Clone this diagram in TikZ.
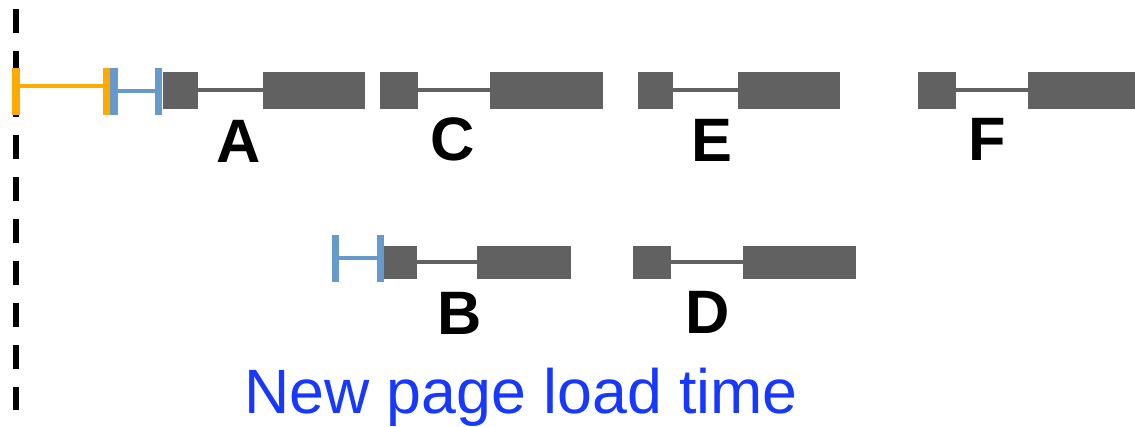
\documentclass[tikz,border=0pt]{standalone}
\usepackage{fontspec}
\setmainfont{Liberation Sans}

\definecolor{segGray}{RGB}{96,97,96}
\definecolor{waitOrange}{RGB}{255,170,0}
\definecolor{tickBlue}{RGB}{102,153,204}
\definecolor{loadBlue}{RGB}{22,56,255}

\tikzset{every picture/.style={line width=0.75pt}}
\tikzset{
  block/.style={fill=segGray, draw=none},
  wire/.style={draw=segGray, line width=3pt},
  letter/.style={anchor=base, font=\fontsize{46}{50}\selectfont\bfseries},
}

\begin{document}
\begin{tikzpicture}[x=0.75pt,y=0.75pt,yscale=-1,xscale=1]
\useasboundingbox (0,0) rectangle (1135,427);

%Straight Lines (start marker)
\draw [line width=4.5pt, dash pattern=on 18pt off 13.5pt]  (16,9) -- (16,410) ;

%Straight Lines (orange wait)
\draw [draw=waitOrange, line width=3pt]  (20,86.5) -- (103,86.5) ;
%Shape: Rectangle
\fill [waitOrange] (12,68) rectangle (20,115) ;
%Shape: Rectangle
\fill [waitOrange] (103,68) rectangle (110,115) ;

%Straight Lines (blue wait, top row)
\draw [draw=tickBlue, line width=3pt]  (118,91.5) -- (155,91.5) ;
%Shape: Rectangle
\fill [tickBlue] (110,68) rectangle (118,115) ;
%Shape: Rectangle
\fill [tickBlue] (155,68) rectangle (162,115) ;

%Straight Lines (blue wait, bottom row)
\draw [draw=tickBlue, line width=3pt]  (338,258) -- (378,258) ;
%Shape: Rectangle
\fill [tickBlue] (332,235) rectangle (338.5,282) ;
%Shape: Rectangle
\fill [tickBlue] (377,235) rectangle (384,282) ;

% top row segments
\draw [wire]  (198,90.5) -- (263,90.5) ;
\fill [block] (163,72) rectangle (198,109) ;
\fill [block] (263,72) rectangle (365,109) ;

\draw [wire]  (418,90.5) -- (490,90.5) ;
\fill [block] (379.5,72) rectangle (418,109) ;
\fill [block] (490,72) rectangle (603,109) ;

\draw [wire]  (673,90.5) -- (738,90.5) ;
\fill [block] (638,72) rectangle (673,109) ;
\fill [block] (738,72) rectangle (840,109) ;

\draw [wire]  (956,90.5) -- (1028,90.5) ;
\fill [block] (917.5,72) rectangle (956,109) ;
\fill [block] (1028,72) rectangle (1135,109) ;

% bottom row segments
\draw [wire]  (417,262) -- (477,262) ;
\fill [block] (384,246) rectangle (417,279) ;
\fill [block] (477,246) rectangle (571,279) ;

\draw [wire]  (671,262) -- (743,262) ;
\fill [block] (632.5,246) rectangle (671,279) ;
\fill [block] (743,246) rectangle (856,279) ;

% Text Node
\node [letter] (labA) at (238.5,162.5) {A};
% Text Node
\node [letter] (labC) at (453,160.5) {C};
% Text Node
\node [letter] (labE) at (711.5,161.5) {E};
% Text Node
\node [letter] (labF) at (987.5,161) {F};
% Text Node
\node [letter] (labB) at (460,334.5) {B};
% Text Node
\node [letter] (labD) at (707.5,333.5) {D};
% Text Node
\node [anchor=base, text=loadBlue, font=\fontsize{47}{52}\selectfont] (loadTime) at (521,414) {New page load time};

\end{tikzpicture}
\end{document}
